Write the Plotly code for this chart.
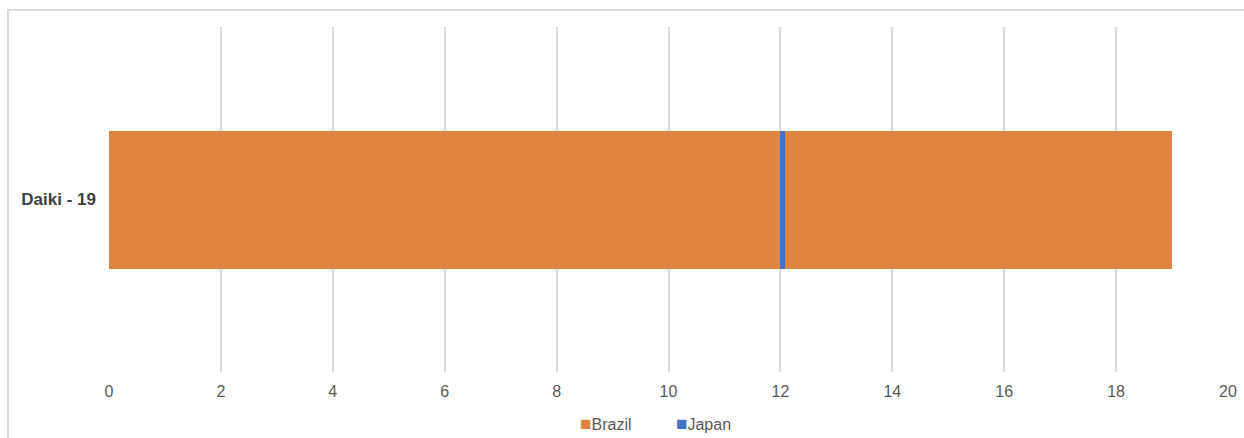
import plotly.graph_objects as go

# Years spent in each country, in order (stacked left to right)
person = ["Daiki - 19"]
brazil_first = [12]
japan = [0.08]
brazil_second = [6.92]

x_ticks = [0, 2, 4, 6, 8, 10, 12, 14, 16, 18, 20]

legend_names = ["Brazil", "Japan"]
orange = "#E0843F"
blue = "#4472C4"
legend_colors = [orange, blue]

fig = go.Figure()
fig.add_trace(go.Bar(y=person, x=brazil_first, orientation="h", name="Brazil",
                     marker=dict(color=orange, line=dict(width=0))))
fig.add_trace(go.Bar(y=person, x=japan, orientation="h", name="Japan",
                     marker=dict(color=blue, line=dict(width=0))))
fig.add_trace(go.Bar(y=person, x=brazil_second, orientation="h", name="Brazil",
                     marker=dict(color=orange, line=dict(width=0))))

# Compact legend below the axis: small colour square right before each name
legend_text = ("&nbsp;" * 10).join(
    f"<span style='color:{c};font-size:19px'>■</span>{n}"
    for n, c in zip(legend_names, legend_colors)
)

fig.update_layout(
    width=1244, height=438,
    margin=dict(l=109, r=16, t=27, b=66),
    barmode="stack",
    bargap=0.6,
    plot_bgcolor="white",
    paper_bgcolor="white",
    font=dict(family="Liberation Sans, Arial, sans-serif", size=16, color="#595959"),
    showlegend=False,
    annotations=[dict(text=legend_text, xref="paper", yref="paper", x=0.488, y=-0.148,
                      xanchor="center", yanchor="middle", showarrow=False,
                      font=dict(size=16, color="#595959"))],
    shapes=[dict(type="rect", xref="paper", yref="paper",
                 x0=-0.0903, y0=-0.3, x1=1.2, y1=1.0493,
                 line=dict(color="#d9d9d9", width=2), fillcolor="rgba(0,0,0,0)", layer="below")],
)
fig.update_xaxes(range=[0, 20], tickvals=x_ticks, showgrid=True, gridcolor="#d9d9d9",
                 gridwidth=1.5, zeroline=False, showline=False, ticks="", automargin=False,
                 ticklabelstandoff=8, tickfont=dict(size=16, color="#595959"))
fig.update_yaxes(showgrid=False, zeroline=False, showline=False, ticks="", automargin=False,
                 range=[-0.5, 0.5], ticklabelstandoff=12,
                 tickfont=dict(size=17, color="#404040", family="Liberation Sans, Arial, sans-serif", weight="bold"))

fig.write_html("out.html")
